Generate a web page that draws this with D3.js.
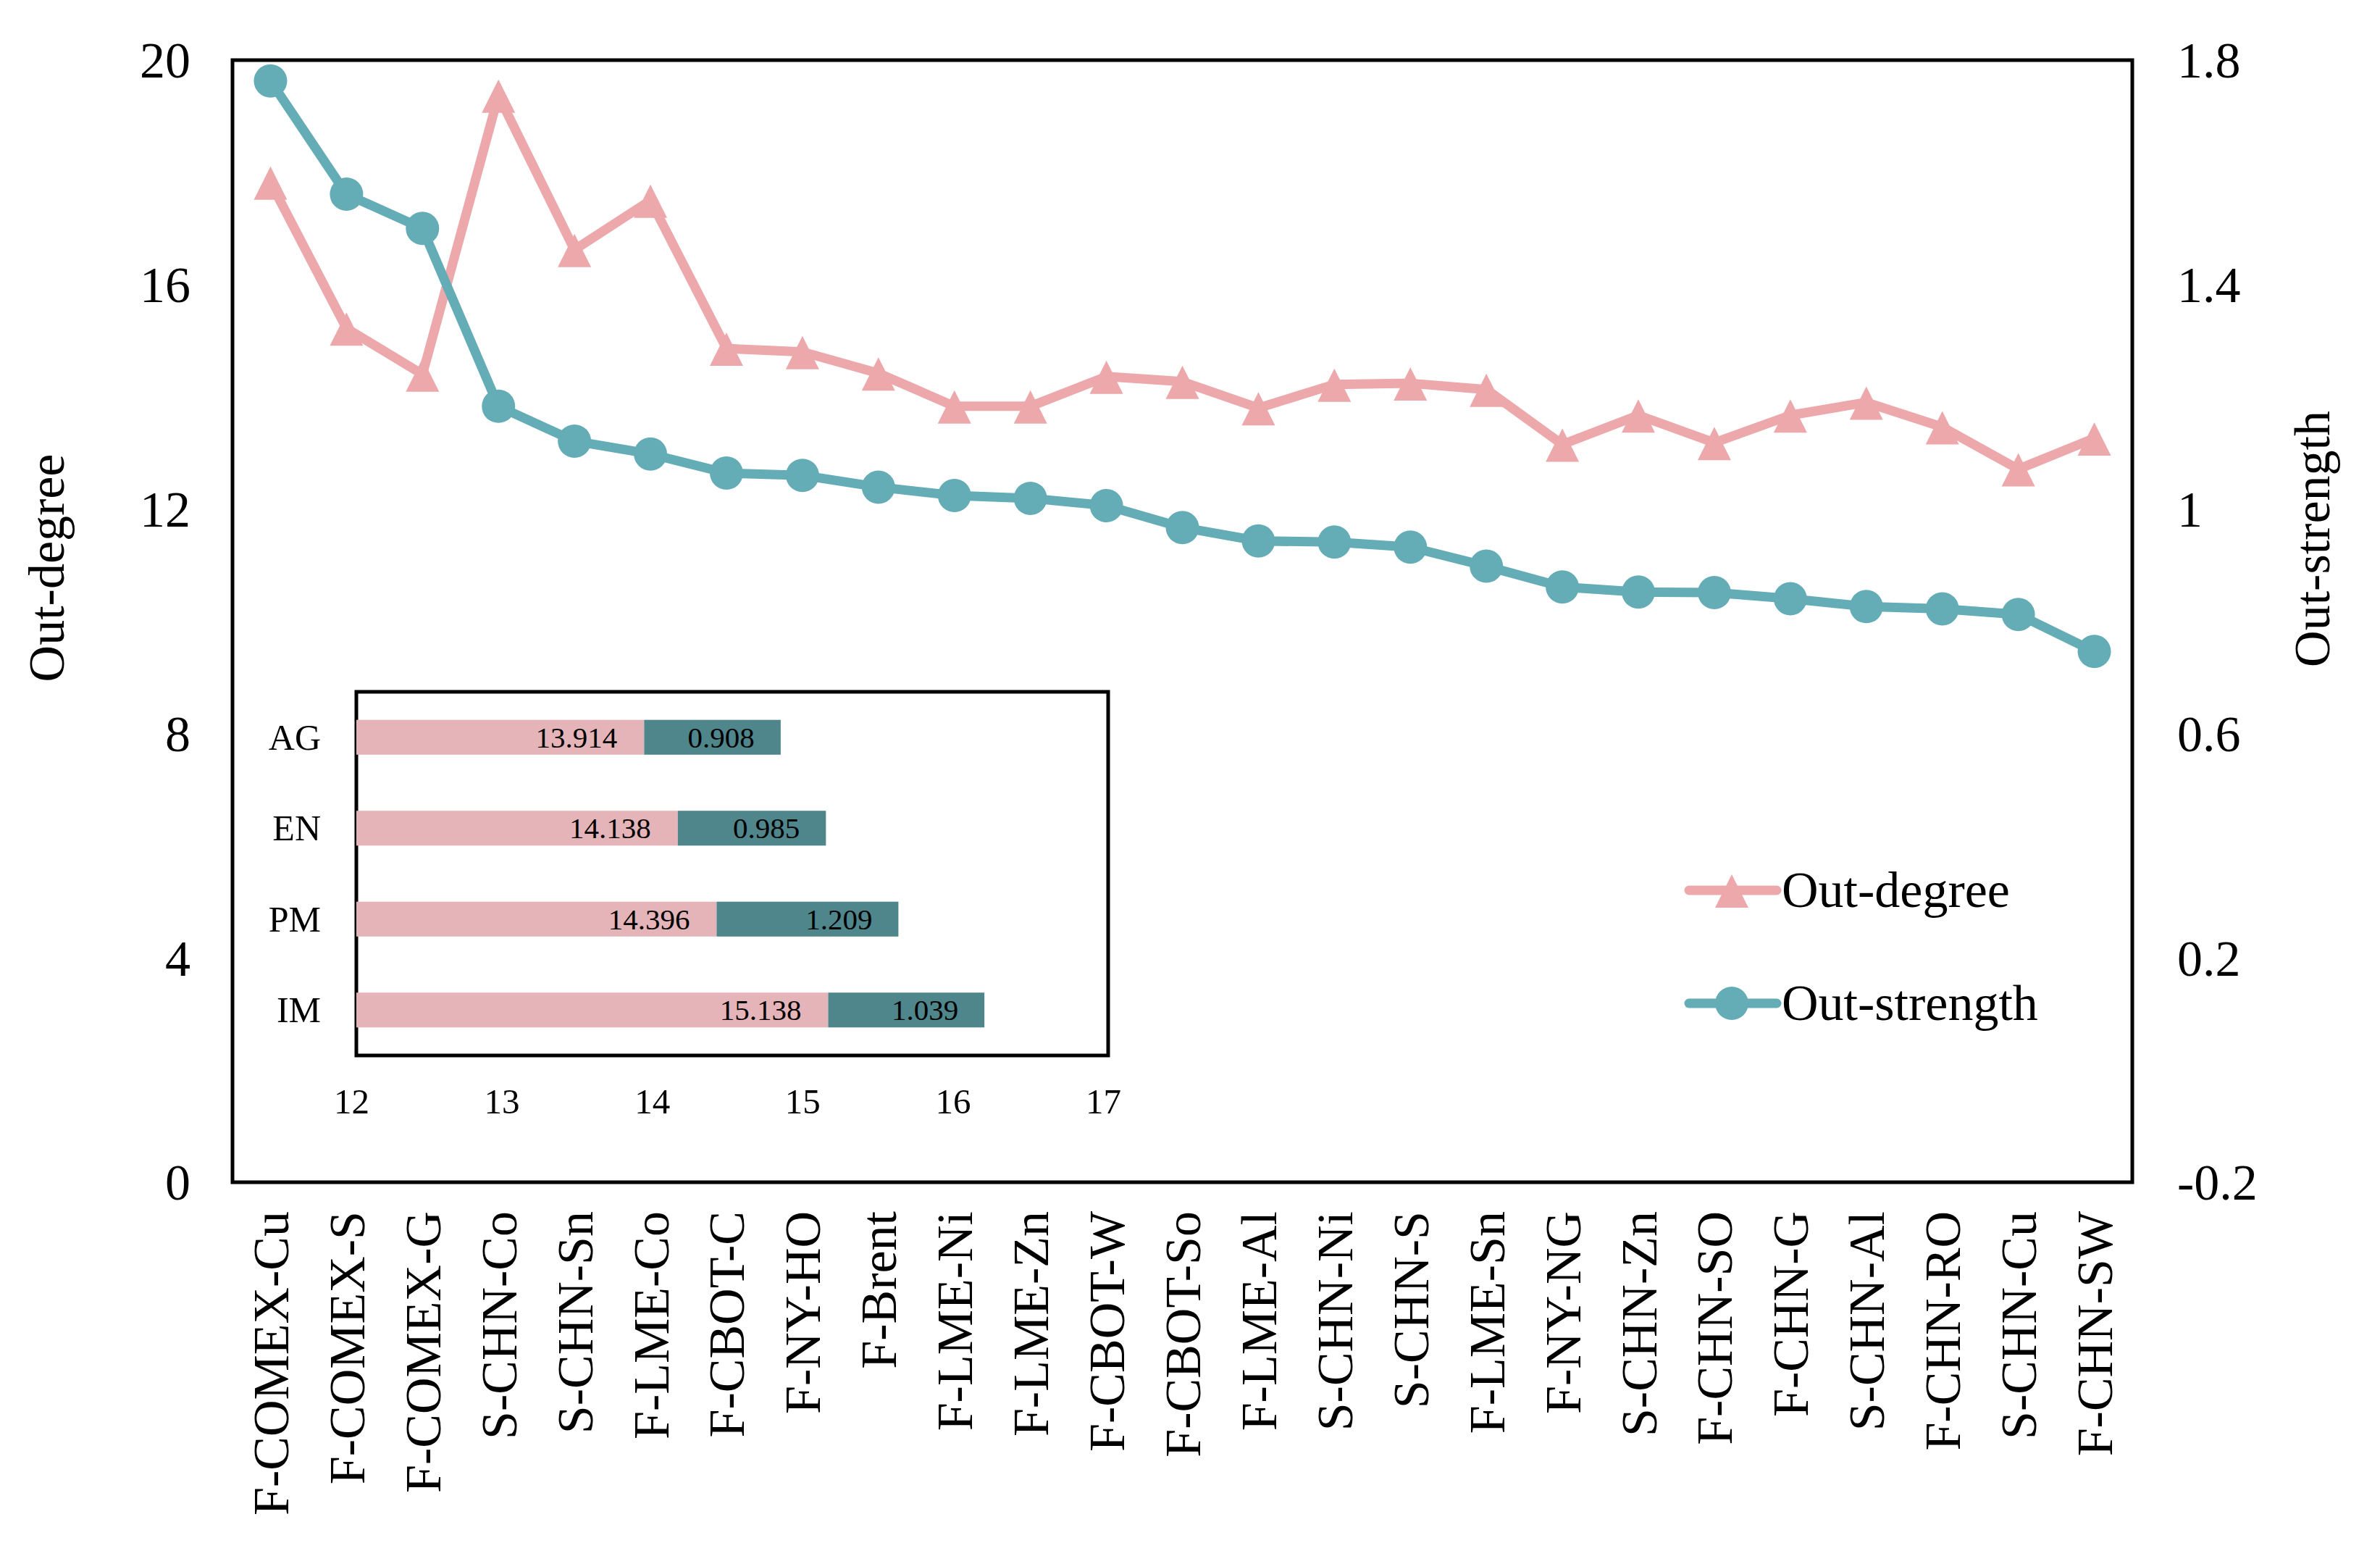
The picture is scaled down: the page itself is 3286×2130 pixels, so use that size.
<!DOCTYPE html>
<html>
<head>
<meta charset="utf-8">
<script src="https://cdn.jsdelivr.net/npm/d3@7"></script>
<style>
  html, body { margin: 0; padding: 0; background: #fff; }
  svg { display: block; }
  text { font-family: "Liberation Serif", "Times New Roman", serif; fill: #000; }
</style>
</head>
<body>
<svg id="chart" width="3286" height="2130"></svg>
<script>
// ---- Data ----
const categories = ["F-COMEX-Cu","F-COMEX-S","F-COMEX-G","S-CHN-Co","S-CHN-Sn","F-LME-Co","F-CBOT-C","F-NY-HO","F-Brent","F-LME-Ni","F-LME-Zn","F-CBOT-W","F-CBOT-So","F-LME-Al","S-CHN-Ni","S-CHN-S","F-LME-Sn","F-NY-NG","S-CHN-Zn","F-CHN-SO","F-CHN-G","S-CHN-Al","F-CHN-RO","S-CHN-Cu","F-CHN-SW"];
const outDegree = [17.82,15.22,14.40,19.37,16.62,17.50,14.86,14.80,14.42,13.83,13.83,14.36,14.27,13.80,14.22,14.24,14.13,13.15,13.67,13.18,13.67,13.90,13.46,12.71,13.26];
const outStrength = [1.763,1.561,1.500,1.183,1.121,1.098,1.064,1.060,1.039,1.024,1.019,1.006,0.967,0.943,0.941,0.932,0.898,0.861,0.852,0.851,0.840,0.826,0.822,0.812,0.746];
const leftTicks = [0,4,8,12,16,20];
const rightTicks = [-0.2,0.2,0.6,1,1.4,1.8];

const insetCats = ["AG","EN","PM","IM"];
const insetDegree = [13.914,14.138,14.396,15.138];
const insetStrength = [0.908,0.985,1.209,1.039];
const insetTicks = [12,13,14,15,16,17];

// ---- Layout ----
const svg = d3.select("#chart");
const L = 321, R = 2944, T = 83, B = 1632;
const pink = "#EDA8AB", teal = "#64ACB6";
const barPink = "#E5B4B8", barTeal = "#4E868C";
const tickFont = 70;
const serif = '"Liberation Serif", "Times New Roman", serif';

const x = d3.scaleBand().domain(categories).range([L, R]).padding(0);
const yL = d3.scaleLinear().domain([0, 20]).range([B, T]);
const yR = d3.scaleLinear().domain([-0.2, 1.8]).range([B, T]);
const cx = d => x(d) + x.bandwidth() / 2;

// Left axis
const axL = svg.append("g").attr("transform", `translate(${L},0)`)
  .call(d3.axisLeft(yL).tickValues(leftTicks).tickSize(0).tickPadding(58).tickFormat(d3.format("d")));
axL.select(".domain").remove();
axL.selectAll("text").style("font-size", tickFont + "px").attr("dy", "0.34em").style("font-family", serif);

// Right axis
const axR = svg.append("g").attr("transform", `translate(${R},0)`)
  .call(d3.axisRight(yR).tickValues(rightTicks).tickSize(0).tickPadding(62)
    .tickFormat(d => (Math.round(d * 10) / 10).toString()));
axR.select(".domain").remove();
axR.selectAll("text").style("font-size", tickFont + "px").attr("dy", "0.34em").style("font-family", serif);

// Bottom axis (rotated labels)
const axB = svg.append("g").attr("transform", `translate(0,${B})`)
  .call(d3.axisBottom(x).tickSize(0).tickPadding(0));
axB.select(".domain").remove();
axB.selectAll("text")
  .style("font-size", tickFont + "px")
  .style("font-family", serif)
  .attr("text-anchor", "end")
  .attr("transform", "translate(0,40) rotate(-90)")
  .attr("x", 0).attr("y", 0).attr("dy", "0.35em");

// Axis titles
svg.append("text").attr("transform", "translate(88,784) rotate(-90)")
  .attr("text-anchor", "middle").style("font-size", "70px").text("Out-degree");
svg.append("text").attr("transform", "translate(3216,744) rotate(-90)")
  .attr("text-anchor", "middle").style("font-size", "70px").text("Out-strength");

// Plot frame
svg.append("rect").attr("x", L).attr("y", T).attr("width", R - L).attr("height", B - T)
  .attr("fill", "none").attr("stroke", "#000").attr("stroke-width", 5);

// Marker shapes
const triPath = "M0,-22 L23,24 L-23,24 Z";

// Out-degree line
const lineL = d3.line().x((d, i) => cx(categories[i])).y(d => yL(d));
svg.append("path").attr("d", lineL(outDegree)).attr("fill", "none")
  .attr("stroke", pink).attr("stroke-width", 13).attr("stroke-linejoin", "round");
svg.append("g").selectAll("path").data(outDegree).join("path")
  .attr("d", triPath).attr("fill", pink)
  .attr("transform", (d, i) => `translate(${cx(categories[i])},${yL(d)})`);

// Out-strength line
const lineR = d3.line().x((d, i) => cx(categories[i])).y(d => yR(d));
svg.append("path").attr("d", lineR(outStrength)).attr("fill", "none")
  .attr("stroke", teal).attr("stroke-width", 13).attr("stroke-linejoin", "round");
svg.append("g").selectAll("circle").data(outStrength).join("circle")
  .attr("cx", (d, i) => cx(categories[i])).attr("cy", d => yR(d)).attr("r", 23).attr("fill", teal);

// Legend
const legend = [
  {name: "Out-degree", color: pink, shape: "tri", y: 1229},
  {name: "Out-strength", color: teal, shape: "circ", y: 1385}
];
const lg = svg.append("g");
legend.forEach(l => {
  lg.append("line").attr("x1", 2332).attr("x2", 2453).attr("y1", l.y).attr("y2", l.y)
    .attr("stroke", l.color).attr("stroke-width", 13).attr("stroke-linecap", "round");
  if (l.shape === "tri") {
    lg.append("path").attr("d", triPath).attr("fill", l.color).attr("transform", `translate(2391,${l.y})`);
  } else {
    lg.append("circle").attr("cx", 2391).attr("cy", l.y).attr("r", 23).attr("fill", l.color);
  }
  lg.append("text").attr("x", 2460).attr("y", l.y).attr("dy", "0.33em")
    .style("font-size", "70px").text(l.name);
});

// ---- Inset ----
const iL = 492, iR = 1530, iT = 955, iB = 1457;
const ix = d3.scaleLinear().domain([12, 17]).range([iL, iR]);
const iy = d3.scaleBand().domain(insetCats).range([iT, iB]).paddingInner(0.617).paddingOuter(0.3085);
const inset = svg.append("g");
inset.append("rect").attr("x", iL).attr("y", iT).attr("width", iR - iL).attr("height", iB - iT)
  .attr("fill", "#fff").attr("stroke", "#000").attr("stroke-width", 5);

const bars = inset.selectAll("g.bar").data(insetCats).join("g").attr("class", "bar");
bars.append("rect")
  .attr("x", ix(12)).attr("y", d => iy(d))
  .attr("width", (d, i) => ix(insetDegree[i]) - ix(12)).attr("height", iy.bandwidth())
  .attr("fill", barPink);
bars.append("rect")
  .attr("x", (d, i) => ix(insetDegree[i])).attr("y", d => iy(d))
  .attr("width", (d, i) => ix(insetDegree[i] + insetStrength[i]) - ix(insetDegree[i]))
  .attr("height", iy.bandwidth()).attr("fill", barTeal);
bars.append("text")
  .attr("x", (d, i) => ix(insetDegree[i]) - 37).attr("y", d => iy(d) + iy.bandwidth() / 2)
  .attr("dy", "0.34em").attr("text-anchor", "end").style("font-size", "41px")
  .text((d, i) => insetDegree[i].toFixed(3));
bars.append("text")
  .attr("x", (d, i) => ix(insetDegree[i] + insetStrength[i]) - 36).attr("y", d => iy(d) + iy.bandwidth() / 2)
  .attr("dy", "0.34em").attr("text-anchor", "end").style("font-size", "41px")
  .text((d, i) => insetStrength[i].toFixed(3));

// Inset category axis
const iaxL = inset.append("g").attr("transform", `translate(${iL},0)`)
  .call(d3.axisLeft(iy).tickSize(0).tickPadding(49));
iaxL.select(".domain").remove();
iaxL.selectAll("text").style("font-size", "50px").attr("dy", "0.34em").style("font-family", serif);

// Inset value axis
const iaxB = inset.append("g").attr("transform", `translate(-7,${iB})`)
  .call(d3.axisBottom(ix).tickValues(insetTicks).tickSize(0).tickPadding(0).tickFormat(d3.format("d")));
iaxB.select(".domain").remove();
iaxB.selectAll("text").style("font-size", "49px").attr("y", 63).attr("dy", "0.34em").style("font-family", serif);
</script>
</body>
</html>
